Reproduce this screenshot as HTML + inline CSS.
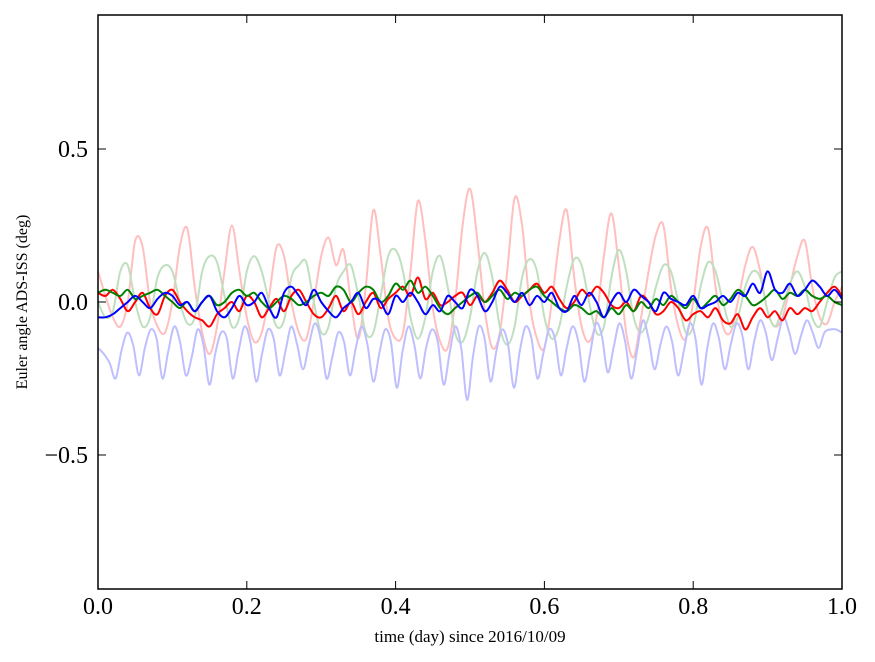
<!DOCTYPE html>
<html><head><meta charset="utf-8">
<style>
html,body{margin:0;padding:0;background:#fff;}
svg{display:block;font-family:"Liberation Serif","DejaVu Serif",serif;}
</style></head>
<body>
<svg id="chart" width="875" height="662" viewBox="0 0 875 662" xmlns="http://www.w3.org/2000/svg">
<rect x="0" y="0" width="875" height="662" fill="#fff"/>
<g id="series"></g>
<rect x="98" y="15" width="744" height="574" fill="none" stroke="#000" stroke-width="1.5"/>
<g id="ticks"></g>
<text x="470" y="642" font-size="17" text-anchor="middle">time (day) since 2016/10/09</text>
<text transform="translate(27,302) rotate(-90)" font-size="16" text-anchor="middle">Euler angle ADS-ISS (deg)</text>
</svg>
<script>
const xTicks=[0.0,0.2,0.4,0.6,0.8,1.0];
const xTickLabels=["0.0","0.2","0.4","0.6","0.8","1.0"];
const yTicks=[0.5,0.0,-0.5];
const yTickLabels=["0.5","0.0","\u22120.5"];
const lightRed=[0.1,0.02,-0.05,-0.08,0.0,0.2,0.18,0.0,-0.08,-0.1,0.0,0.18,0.24,0.05,-0.1,-0.17,-0.08,0.1,0.25,0.1,-0.05,-0.13,-0.1,0.02,0.18,0.15,0.0,-0.1,-0.12,0.0,0.15,0.21,0.12,0.17,0.0,-0.12,0.05,0.3,0.15,-0.05,-0.12,-0.1,0.1,0.33,0.2,-0.02,-0.13,-0.15,0.0,0.25,0.37,0.2,-0.03,-0.15,-0.1,0.1,0.34,0.25,0.0,-0.12,-0.15,0.0,0.2,0.3,0.08,-0.08,-0.13,-0.05,0.15,0.29,0.12,-0.1,-0.18,-0.05,0.1,0.22,0.25,0.05,-0.08,-0.12,0.0,0.18,0.24,0.05,-0.08,-0.1,0.0,0.12,0.18,0.1,-0.03,-0.08,-0.05,0.05,0.15,0.2,0.05,-0.05,-0.07,0.0,0.05];
const lightGreen=[0.0,-0.05,-0.03,0.1,0.12,0.0,-0.08,-0.05,0.08,0.12,0.1,0.0,-0.07,-0.05,0.1,0.15,0.13,0.02,-0.08,-0.05,0.1,0.15,0.1,0.0,-0.08,-0.06,0.08,0.12,0.13,0.0,-0.1,-0.08,0.05,0.1,0.12,0.02,-0.1,-0.1,0.02,0.15,0.17,0.1,-0.05,-0.12,-0.05,0.1,0.15,0.05,-0.1,-0.13,-0.05,0.1,0.16,0.08,-0.08,-0.14,-0.08,0.08,0.14,0.1,-0.05,-0.12,-0.08,0.05,0.14,0.12,0.0,-0.1,-0.08,0.08,0.17,0.1,-0.05,-0.1,-0.05,0.05,0.12,0.1,0.0,-0.1,-0.08,0.05,0.13,0.1,0.0,-0.08,-0.05,0.05,0.1,0.08,-0.03,-0.08,-0.02,0.06,0.1,0.05,-0.05,-0.08,0.0,0.08,0.1];
const lightBlue=[-0.15,-0.17,-0.2,-0.25,-0.16,-0.1,-0.14,-0.24,-0.15,-0.09,-0.12,-0.25,-0.16,-0.08,-0.13,-0.24,-0.18,-0.09,-0.14,-0.27,-0.17,-0.1,-0.12,-0.25,-0.16,-0.08,-0.13,-0.26,-0.17,-0.09,-0.12,-0.24,-0.16,-0.08,-0.14,-0.22,-0.14,-0.07,-0.12,-0.25,-0.18,-0.1,-0.13,-0.24,-0.15,-0.08,-0.14,-0.26,-0.17,-0.09,-0.13,-0.28,-0.16,-0.08,-0.14,-0.25,-0.15,-0.09,-0.13,-0.27,-0.17,-0.08,-0.15,-0.32,-0.18,-0.08,-0.12,-0.26,-0.16,-0.09,-0.14,-0.28,-0.16,-0.08,-0.12,-0.25,-0.17,-0.09,-0.12,-0.24,-0.15,-0.08,-0.13,-0.26,-0.17,-0.07,-0.11,-0.23,-0.15,-0.07,-0.13,-0.25,-0.16,-0.06,-0.12,-0.22,-0.14,-0.08,-0.13,-0.24,-0.16,-0.07,-0.12,-0.27,-0.15,-0.07,-0.12,-0.22,-0.14,-0.07,-0.11,-0.22,-0.13,-0.06,-0.1,-0.19,-0.12,-0.05,-0.1,-0.17,-0.11,-0.06,-0.1,-0.15,-0.1,-0.09,-0.09,-0.1];
const boldRed=[0.03,0.02,0.04,0.01,-0.03,0.0,0.03,-0.02,-0.04,0.02,0.04,0.0,-0.03,-0.05,-0.06,-0.08,-0.04,-0.02,0.0,-0.03,0.02,0.0,-0.05,-0.02,0.01,-0.03,0.02,0.04,0.0,-0.04,-0.05,-0.02,0.02,-0.03,0.0,-0.04,0.0,0.03,-0.02,0.01,0.03,0.05,0.02,0.08,0.01,0.03,-0.01,0.0,0.02,0.03,-0.01,0.02,0.0,0.03,0.07,0.04,0.0,0.02,0.04,0.06,0.03,0.05,0.01,-0.02,0.0,0.04,0.02,0.05,0.03,-0.01,-0.02,0.0,-0.03,0.02,0.0,-0.04,-0.03,0.0,-0.02,-0.06,-0.04,-0.03,-0.05,-0.02,-0.06,-0.07,-0.04,-0.09,-0.05,-0.02,-0.05,-0.03,-0.06,-0.02,-0.04,-0.02,-0.03,0.0,0.03,0.05,0.02];
const boldGreen=[0.03,0.04,0.03,0.02,0.04,0.01,0.02,0.03,0.04,0.02,0.0,-0.02,0.0,-0.03,0.0,0.02,-0.01,0.0,0.03,0.04,0.02,0.03,0.0,-0.02,0.0,0.02,0.01,-0.01,0.0,0.02,0.03,0.02,0.05,0.04,0.0,0.03,0.05,0.04,0.0,0.02,0.06,0.04,0.07,0.03,0.05,0.02,-0.02,-0.04,-0.02,0.0,0.02,0.03,0.0,0.02,0.04,0.01,0.03,0.02,0.04,0.05,0.02,0.0,-0.02,-0.03,-0.01,-0.02,-0.04,-0.03,-0.05,-0.02,-0.04,-0.01,-0.03,0.0,-0.02,0.01,-0.01,0.02,0.0,-0.02,0.01,-0.02,0.0,0.02,-0.01,0.01,0.04,0.02,-0.01,0.0,0.02,0.04,0.01,0.03,0.02,0.04,0.02,0.01,0.02,0.0,-0.01];
const boldBlue=[-0.05,-0.05,-0.04,-0.02,0.0,0.02,0.0,-0.02,0.01,0.03,0.02,-0.01,0.0,-0.03,0.0,0.02,-0.03,-0.05,-0.02,0.02,-0.01,0.0,0.03,-0.02,-0.05,0.03,0.05,0.02,-0.01,0.04,0.0,-0.03,-0.05,-0.02,0.0,0.03,-0.02,0.01,0.0,-0.04,0.02,0.0,0.03,0.0,-0.04,-0.01,-0.03,0.02,0.0,-0.02,0.04,0.02,-0.03,0.0,0.05,0.03,0.0,0.03,-0.01,0.02,0.0,0.03,-0.02,-0.03,0.02,-0.01,0.03,0.0,-0.05,0.0,0.03,0.0,0.04,0.02,0.0,-0.03,0.03,0.01,0.0,-0.01,0.02,-0.02,-0.01,0.0,0.02,0.0,0.03,0.02,0.06,0.03,0.1,0.04,0.03,0.06,0.02,0.04,0.07,0.05,0.02,0.04,0.01];

const X0=98,X1=842,Y0=15,Y1=589,YMIN=-0.938,YMAX=0.938;
const xs=v=>X0+(X1-X0)*v;
const ys=v=>Y1-(Y1-Y0)*(v-YMIN)/(YMAX-YMIN);
const NS="http://www.w3.org/2000/svg";
const sg=document.getElementById('series');
function drawLine(arr,color,w,name){
  const n=arr.length;
  const P=arr.map((v,i)=>[xs(i/(n-1)),ys(v)]);
  let d='M'+P[0][0].toFixed(1)+','+P[0][1].toFixed(1);
  for(let i=0;i<n-1;i++){
    const p0=P[Math.max(0,i-1)],p1=P[i],p2=P[i+1],p3=P[Math.min(n-1,i+2)];
    const c1x=p1[0]+(p2[0]-p0[0])/6,c1y=p1[1]+(p2[1]-p0[1])/6;
    const c2x=p2[0]-(p3[0]-p1[0])/6,c2y=p2[1]-(p3[1]-p1[1])/6;
    d+=' C'+c1x.toFixed(1)+','+c1y.toFixed(1)+' '+c2x.toFixed(1)+','+c2y.toFixed(1)+' '+p2[0].toFixed(1)+','+p2[1].toFixed(1);
  }
  const p=document.createElementNS(NS,'path');
  p.setAttribute('d',d);p.setAttribute('fill','none');p.setAttribute('stroke',color);
  p.setAttribute('stroke-width',w);p.setAttribute('stroke-linejoin','round');
  
  
  sg.appendChild(p);
}
drawLine(lightRed,'#ffbfbf',2,'series-light-red');
drawLine(lightGreen,'#bfdfbf',2,'series-light-green');
drawLine(lightBlue,'#bfbfff',2,'series-light-blue');
drawLine(boldRed,'#ff0000',2,'series-red');
drawLine(boldGreen,'#008000',2,'series-green');
drawLine(boldBlue,'#0000ff',2,'series-blue');

const tg=document.getElementById('ticks');
function el(tag,attrs){const e=document.createElementNS(NS,tag);for(const k in attrs)e.setAttribute(k,attrs[k]);tg.appendChild(e);return e;}
xTicks.forEach((t,i)=>{
  const x=xs(t);
  const a=el('line',{x1:x,y1:Y1,x2:x,y2:Y1-8,stroke:'#000','stroke-width':1});
  
  
  const b=el('line',{x1:x,y1:Y0,x2:x,y2:Y0+8,stroke:'#000','stroke-width':1});
  
  
  const tx=el('text',{x:x,y:614,'font-size':24,'text-anchor':'middle'});
  tx.textContent=xTickLabels[i];
  
  
});
yTicks.forEach((t,i)=>{
  const y=ys(t);
  const a=el('line',{x1:X0,y1:y,x2:X0+8,y2:y,stroke:'#000','stroke-width':1});
  
  
  const b=el('line',{x1:X1,y1:y,x2:X1-8,y2:y,stroke:'#000','stroke-width':1});
  
  
  const tx=el('text',{x:88,y:y+8,'font-size':24,'text-anchor':'end'});
  tx.textContent=yTickLabels[i];
  
  
});
</script>
</body></html>
